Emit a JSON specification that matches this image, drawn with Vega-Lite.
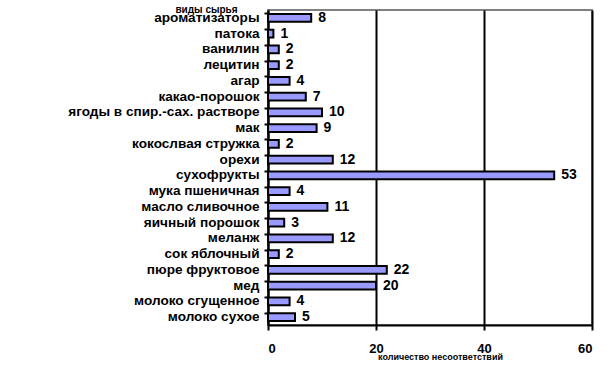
{
  "$schema": "https://vega.github.io/schema/vega-lite/v6.json",
  "autosize": "none",
  "width": 324,
  "height": 315,
  "padding": {"left": 268, "top": 10, "right": 23, "bottom": 46},
  "background": "white",
  "config": {
    "view": {"stroke": "#808080", "strokeWidth": 2},
    "font": "Liberation Sans"
  },
  "data": {
    "values": [
      {"cat": "ароматизаторы", "v": 8},
      {"cat": "патока", "v": 1},
      {"cat": "ванилин", "v": 2},
      {"cat": "лецитин", "v": 2},
      {"cat": "агар", "v": 4},
      {"cat": "какао-порошок", "v": 7},
      {"cat": "ягоды в спир.-сах. растворе", "v": 10},
      {"cat": "мак", "v": 9},
      {"cat": "кокослвая стружка", "v": 2},
      {"cat": "орехи", "v": 12},
      {"cat": "сухофрукты", "v": 53},
      {"cat": "мука пшеничная", "v": 4},
      {"cat": "масло сливочное", "v": 11},
      {"cat": "яичный порошок", "v": 3},
      {"cat": "меланж", "v": 12},
      {"cat": "сок яблочный", "v": 2},
      {"cat": "пюре фруктовое", "v": 22},
      {"cat": "мед", "v": 20},
      {"cat": "молоко  сгущенное", "v": 4},
      {"cat": "молоко сухое", "v": 5}
    ]
  },
  "encoding": {
    "y": {
      "field": "cat",
      "type": "nominal",
      "sort": null,
      "scale": {"paddingInner": 0.5, "paddingOuter": 0.25},
      "axis": {
        "title": "виды сырья",
        "titleAngle": 0,
        "titleX": -62,
        "titleY": 4,
        "titleFontSize": 10,
        "titleFontWeight": "bold",
        "titleColor": "black",
        "titleAlign": "center",
        "labelFontSize": 13.6,
        "labelFontWeight": "bold",
        "labelColor": "black",
        "labelPadding": 5,
        "labelLimit": 300,
        "domainColor": "black",
        "domainWidth": 2,
        "tickColor": "black",
        "tickWidth": 2,
        "tickSize": 4,
        "bandPosition": 0
      }
    }
  },
  "layer": [
    {
      "mark": {"type": "bar", "fill": "#9999FF", "stroke": "black", "strokeWidth": 2},
      "encoding": {
        "x": {
          "field": "v",
          "type": "quantitative",
          "scale": {"domain": [0, 60], "nice": false},
          "axis": {
            "values": [0, 20, 40, 60],
            "title": "количество несоответствий",
            "titleFontSize": 9,
            "titleFontWeight": "bold",
            "titleColor": "black",
            "titlePadding": -3,
            "titleX": 172,
            "labelFontSize": 13,
            "labelFontWeight": "bold",
            "labelColor": "black",
            "labelPadding": 12,
            "grid": true,
            "gridColor": "black",
            "gridWidth": 2,
            "domainColor": "black",
            "domainWidth": 2,
            "tickColor": "black",
            "tickWidth": 2,
            "tickSize": 5
          }
        }
      }
    },
    {
      "mark": {"type": "text", "align": "left", "dx": 7, "fontSize": 14, "fontWeight": "bold", "color": "black"},
      "encoding": {
        "x": {"field": "v", "type": "quantitative"},
        "text": {"field": "v", "type": "quantitative"}
      }
    }
  ]
}
